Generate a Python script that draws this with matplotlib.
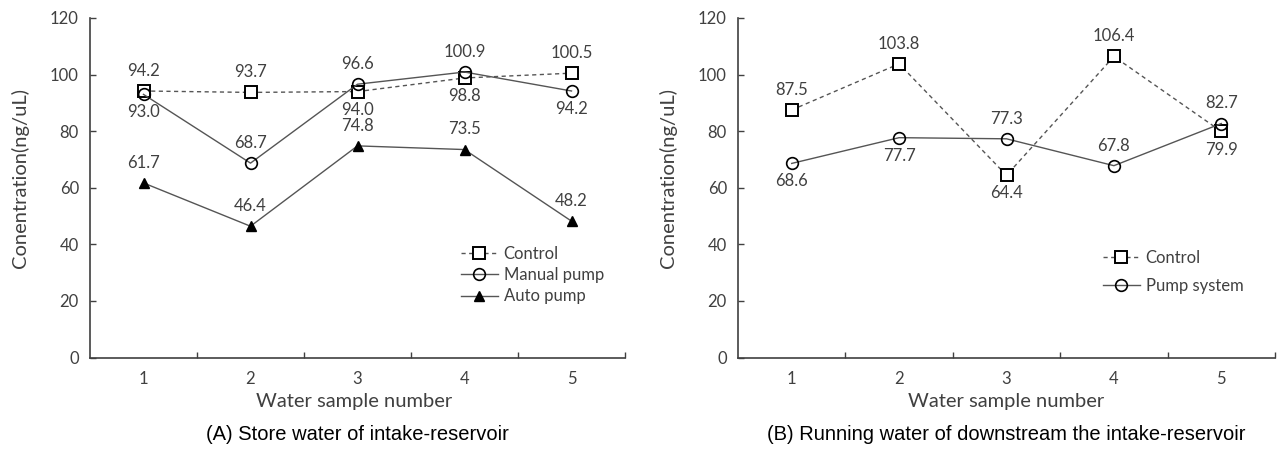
import matplotlib
matplotlib.use("Agg")
import matplotlib.pyplot as plt

samples = [1, 2, 3, 4, 5]

# Panel A
a_control = [94.2, 93.7, 94.0, 98.8, 100.5]
a_manual = [93.0, 68.7, 96.6, 100.9, 94.2]
a_auto = [61.7, 46.4, 74.8, 73.5, 48.2]
a_control_pos = ["above", "above", "below", "below", "above"]
a_manual_pos = ["below", "above", "above", "above", "below"]
a_auto_pos = ["above", "above", "above", "above", "above"]

# Panel B
b_control = [87.5, 103.8, 64.4, 106.4, 79.9]
b_pump = [68.6, 77.7, 77.3, 67.8, 82.7]
b_control_pos = ["above", "above", "below", "above", "below"]
b_pump_pos = ["below", "below", "above", "above", "above"]

yticks = [0, 20, 40, 60, 80, 100, 120]
xlabel = "Water sample number"
ylabel = "Conentration(ng/uL)"
caption_a = "(A) Store water of intake-reservoir"
caption_b = "(B) Running water of downstream the intake-reservoir"

FONT = ["Lato", "DejaVu Sans"]
TXT = "#404040"
LINE = "#555555"

fig = plt.figure(figsize=(12.81, 4.49), dpi=100)
axA = fig.add_axes([90/1281, 91.5/449, 535/1281, 339.5/449])
axB = fig.add_axes([738/1281, 91.5/449, 537/1281, 339.5/449])


def style(ax):
    ax.set_xlim(0.5, 5.5)
    ax.set_ylim(0, 120)
    ax.set_yticks(yticks)
    ax.set_yticklabels([str(v) for v in yticks], family=FONT, fontsize=12, color=TXT)
    ax.set_xticks(samples)
    ax.set_xticklabels([str(v) for v in samples], family=FONT, fontsize=12, color=TXT)
    ax.set_xticks([1.5, 2.5, 3.5, 4.5, 5.5], minor=True)
    ax.tick_params(axis="x", which="major", length=0, pad=10)
    ax.tick_params(axis="x", which="minor", direction="in", length=4, width=1, color="#404040")
    ax.tick_params(axis="y", direction="in", length=4, width=1, color="#404040", pad=8)
    for s in ["top", "right"]:
        ax.spines[s].set_visible(False)
    for s in ["left", "bottom"]:
        ax.spines[s].set_color("#404040")
        ax.spines[s].set_linewidth(1.2)
    ax.set_xlabel(xlabel, family=FONT, fontsize=14.5, color=TXT)
    ax.set_ylabel(ylabel, family=FONT, fontsize=14.5, color=TXT)
    ax.xaxis.label.set_verticalalignment("center")
    ax.yaxis.label.set_verticalalignment("center")
    ax.yaxis.set_label_coords(-0.131, 0.53)


def labels(ax, xs, ys, pos):
    for x, y, p in zip(xs, ys, pos):
        off = 14.5 if p == "above" else -13
        ax.annotate(f"{y:.1f}", (x, y), xytext=(0, off), textcoords="offset points",
                    ha="center", va="center", family=FONT, fontsize=12, color=TXT)


style(axA)
axA.xaxis.set_label_coords(0.493, -0.131)
axA.plot(samples, a_control, ls=(0, (3, 2.5)), lw=1, color=LINE, marker="s", ms=8.4,
         mfc="white", mec="black", mew=1.4, label="Control", zorder=3)
axA.plot(samples, a_manual, ls="-", lw=1, color=LINE, marker="o", ms=8.4,
         mfc="none", mec="black", mew=1.2, label="Manual pump", zorder=4)
axA.plot(samples, a_auto, ls="-", lw=1, color=LINE, marker="^", ms=7.5,
         mfc="black", mec="black", label="Auto pump", zorder=3)
labels(axA, samples, a_control, a_control_pos)
labels(axA, samples, a_manual, a_manual_pos)
labels(axA, samples, a_auto, a_auto_pos)
legA = axA.legend(loc="upper left", bbox_to_anchor=(0.681, 0.348), frameon=False,
                  prop={"family": FONT, "size": 12}, handlelength=2.2,
                  handletextpad=0.36, labelspacing=0.31, borderaxespad=0)
for t in legA.get_texts():
    t.set_color(TXT)

style(axB)
axB.xaxis.set_label_coords(0.5, -0.131)
axB.plot(samples, b_control, ls=(0, (3, 2.5)), lw=1, color=LINE, marker="s", ms=8.4,
         mfc="white", mec="black", mew=1.4, label="Control", zorder=3)
axB.plot(samples, b_pump, ls="-", lw=1, color=LINE, marker="o", ms=8.4,
         mfc="none", mec="black", mew=1.2, label="Pump system", zorder=4)
labels(axB, samples, b_control, b_control_pos)
labels(axB, samples, b_pump, b_pump_pos)
legB = axB.legend(loc="upper left", bbox_to_anchor=(0.667, 0.337), frameon=False,
                  prop={"family": FONT, "size": 12}, handlelength=2.2,
                  handletextpad=0.36, labelspacing=0.74, borderaxespad=0)
for t in legB.get_texts():
    t.set_color(TXT)

fig.text(357/1281, 1 - 435/449, caption_a, ha="center", va="center",
         family=["Liberation Sans", "DejaVu Sans"], fontsize=14.5, color="black")
fig.text(1006/1281, 1 - 435/449, caption_b, ha="center", va="center",
         family=["Liberation Sans", "DejaVu Sans"], fontsize=14.5, color="black")

fig.savefig("out.png", dpi=100)
